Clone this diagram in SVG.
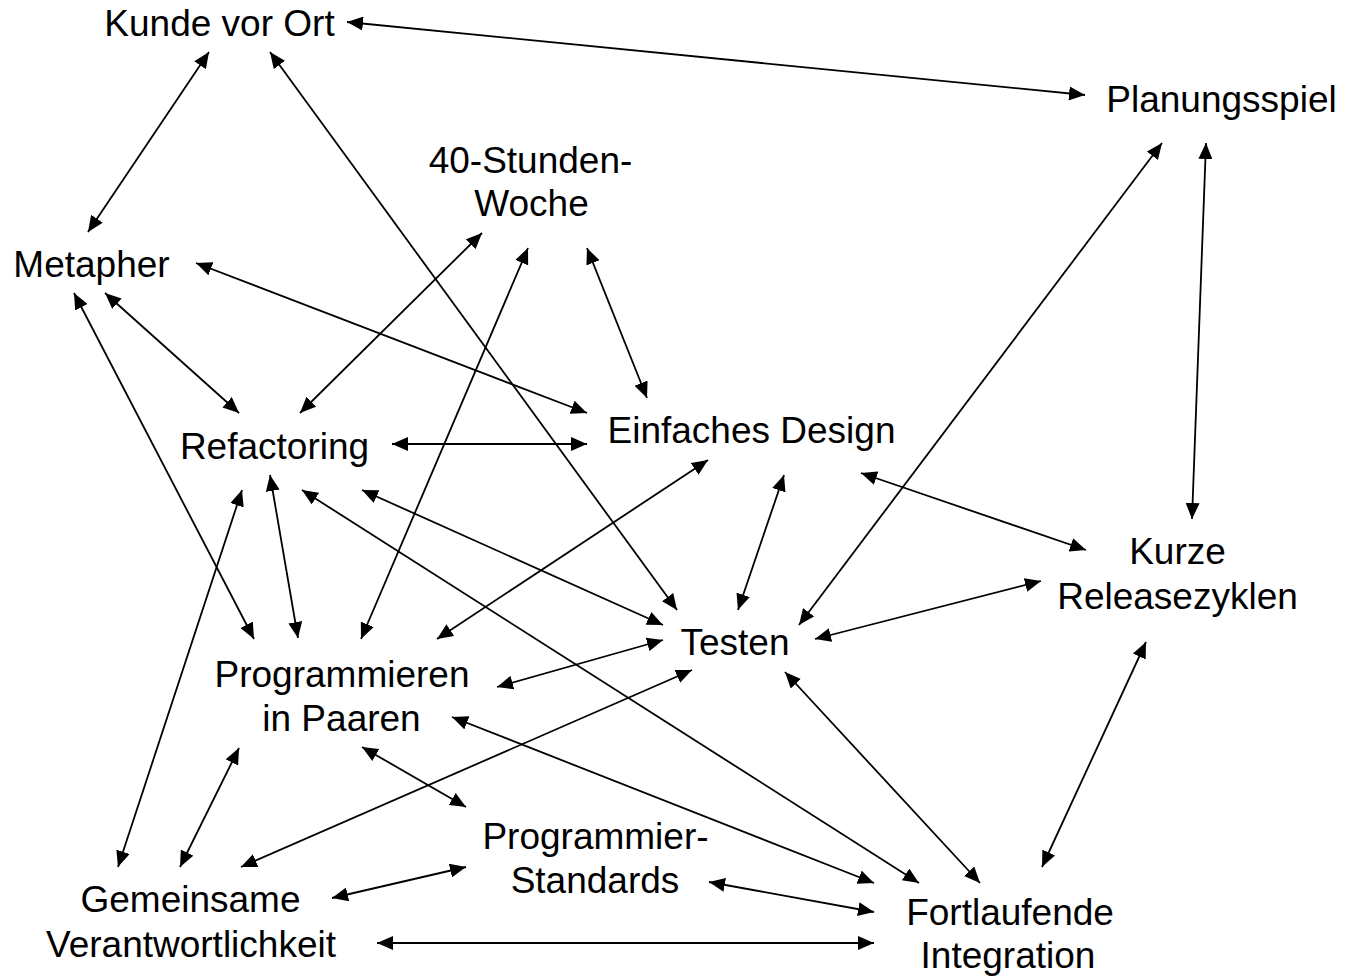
<svg xmlns="http://www.w3.org/2000/svg" width="1350" height="976" viewBox="0 0 1350 976">
  <style>
    .lbl { font-family: "Liberation Sans", Arial, sans-serif; font-size: 37px; fill: #000; text-anchor: middle; }
    .edge { stroke: #000; stroke-width: 1.8; fill: none; marker-start: url(#tip); marker-end: url(#tip); }
  </style>
  <defs>
    <marker id="tip" viewBox="0 0 16 14" refX="16" refY="7" markerWidth="16" markerHeight="14" markerUnits="userSpaceOnUse" orient="auto-start-reverse">
      <path d="M0,0 L16,7 L0,14 z" fill="#000"/>
    </marker>
  </defs>
  <rect width="1350" height="976" fill="#fff"/>

  <g id="connectors">
    <line class="edge" x1="347" y1="22" x2="1085" y2="95"/>
    <line class="edge" x1="209" y1="52" x2="88" y2="232"/>
    <line class="edge" x1="270" y1="52" x2="677" y2="610"/>
    <line class="edge" x1="196" y1="263" x2="587" y2="413"/>
    <line class="edge" x1="105" y1="293" x2="239" y2="413"/>
    <line class="edge" x1="74" y1="293" x2="254" y2="639"/>
    <line class="edge" x1="482" y1="233" x2="300" y2="413"/>
    <line class="edge" x1="528" y1="248" x2="361" y2="639"/>
    <line class="edge" x1="587" y1="248" x2="647" y2="398"/>
    <line class="edge" x1="392" y1="444" x2="587" y2="444"/>
    <line class="edge" x1="270" y1="475" x2="298" y2="638"/>
    <line class="edge" x1="242" y1="490" x2="118" y2="867"/>
    <line class="edge" x1="362" y1="490" x2="663" y2="625"/>
    <line class="edge" x1="302" y1="490" x2="919" y2="883"/>
    <line class="edge" x1="708" y1="460" x2="437" y2="639"/>
    <line class="edge" x1="784" y1="475" x2="738" y2="610"/>
    <line class="edge" x1="861" y1="473" x2="1086" y2="550"/>
    <line class="edge" x1="1162" y1="143" x2="799" y2="625"/>
    <line class="edge" x1="1206" y1="143" x2="1192" y2="519"/>
    <line class="edge" x1="1041" y1="581" x2="815" y2="639"/>
    <line class="edge" x1="1146" y1="642" x2="1042" y2="867"/>
    <line class="edge" x1="663" y1="640" x2="497" y2="687"/>
    <line class="edge" x1="692" y1="670" x2="241" y2="867"/>
    <line class="edge" x1="785" y1="672" x2="980" y2="883"/>
    <line class="edge" x1="239" y1="748" x2="180" y2="867"/>
    <line class="edge" x1="362" y1="747" x2="466" y2="807"/>
    <line class="edge" x1="452" y1="717" x2="874" y2="883"/>
    <line class="edge" x1="332" y1="898" x2="466" y2="867"/>
    <line class="edge" x1="377" y1="943" x2="874" y2="943"/>
    <line class="edge" x1="709" y1="882" x2="874" y2="912"/>
  </g>

  <g id="kunde-vor-ort"><text class="lbl" x="219.5" y="36">Kunde vor Ort</text></g>
  <g id="planungsspiel"><text class="lbl" x="1221.5" y="112">Planungsspiel</text></g>
  <g id="vierzig-stunden-woche">
    <text class="lbl" x="530.5" y="173">40-Stunden-</text>
    <text class="lbl" x="531.5" y="216">Woche</text>
  </g>
  <g id="metapher"><text class="lbl" x="91.5" y="277">Metapher</text></g>
  <g id="refactoring"><text class="lbl" x="274.5" y="459">Refactoring</text></g>
  <g id="einfaches-design"><text class="lbl" x="751.5" y="443">Einfaches Design</text></g>
  <g id="kurze-releasezyklen">
    <text class="lbl" x="1177.5" y="564">Kurze</text>
    <text class="lbl" x="1177.5" y="609">Releasezyklen</text>
  </g>
  <g id="testen"><text class="lbl" x="735" y="655">Testen</text></g>
  <g id="programmieren-in-paaren">
    <text class="lbl" x="342" y="687">Programmieren</text>
    <text class="lbl" x="341.5" y="731">in Paaren</text>
  </g>
  <g id="programmier-standards">
    <text class="lbl" x="595.5" y="849">Programmier-</text>
    <text class="lbl" x="595" y="893">Standards</text>
  </g>
  <g id="gemeinsame-verantwortlichkeit">
    <text class="lbl" x="190.5" y="912">Gemeinsame</text>
    <text class="lbl" x="191" y="957">Verantwortlichkeit</text>
  </g>
  <g id="fortlaufende-integration">
    <text class="lbl" x="1010" y="925">Fortlaufende</text>
    <text class="lbl" x="1008" y="968">Integration</text>
  </g>
</svg>
